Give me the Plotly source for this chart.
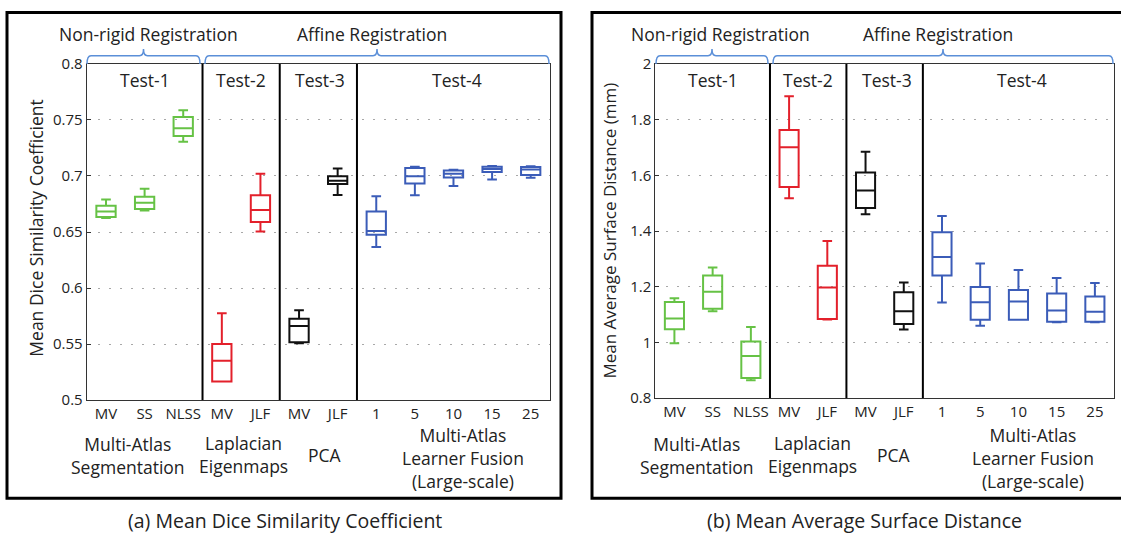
import plotly.graph_objects as go

W, H = 1121, 540

# ---------------- data ----------------
tick_labels = ["MV", "SS", "NLSS", "MV", "JLF", "MV", "JLF", "1", "5", "10", "15", "25"]
positions = list(range(1, 13))
box_colors = ["#66c245"] * 3 + ["#e3202b"] * 2 + ["#111111"] * 2 + ["#3b5cb8"] * 5

# Panel (a) Mean Dice Similarity Coefficient
dsc_lower = [0.6625, 0.6691, 0.7306, 0.5166, 0.6504, 0.5507, 0.6831, 0.6367, 0.6828, 0.6911, 0.6968, 0.6985]
dsc_q1 = [0.6633, 0.6705, 0.7358, 0.5166, 0.6590, 0.5516, 0.6928, 0.6476, 0.6934, 0.6986, 0.7035, 0.7009]
dsc_median = [0.6682, 0.6762, 0.7427, 0.5350, 0.6696, 0.5660, 0.6958, 0.6510, 0.6997, 0.7020, 0.7063, 0.7057]
dsc_q3 = [0.6734, 0.6814, 0.7527, 0.5501, 0.6828, 0.5725, 0.6997, 0.6682, 0.7072, 0.7049, 0.7083, 0.7080]
dsc_upper = [0.6791, 0.6885, 0.7587, 0.5774, 0.7020, 0.5802, 0.7066, 0.6820, 0.7083, 0.7055, 0.7090, 0.7086]

# Panel (b) Mean Average Surface Distance
masd_lower = [0.997, 1.112, 0.864, 1.518, 1.082, 1.460, 1.046, 1.143, 1.060, 1.081, 1.072, 1.072]
masd_q1 = [1.047, 1.121, 0.872, 1.558, 1.084, 1.483, 1.066, 1.240, 1.081, 1.081, 1.074, 1.074]
masd_median = [1.086, 1.182, 0.951, 1.701, 1.197, 1.546, 1.112, 1.307, 1.144, 1.147, 1.115, 1.110]
masd_q3 = [1.145, 1.240, 1.003, 1.763, 1.275, 1.610, 1.180, 1.396, 1.199, 1.188, 1.176, 1.165]
masd_upper = [1.159, 1.269, 1.055, 1.884, 1.364, 1.685, 1.215, 1.454, 1.283, 1.260, 1.231, 1.213]

dsc_ticks = [0.5, 0.55, 0.6, 0.65, 0.7, 0.75, 0.8]
dsc_ticktext = ["0.5", "0.55", "0.6", "0.65", "0.7", "0.75", "0.8"]
masd_ticks = [0.8, 1.0, 1.2, 1.4, 1.6, 1.8, 2.0]
masd_ticktext = ["0.8", "1", "1.2", "1.4", "1.6", "1.8", "2"]

separators = [3.5, 5.5, 7.5]
test_labels = ["Test-1", "Test-2", "Test-3", "Test-4"]
test_label_pos = [2.0, 4.5, 6.55, 10.1]
group_labels = ["Multi-Atlas<br>Segmentation", "Laplacian<br>Eigenmaps", "PCA",
                "Multi-Atlas<br>Learner Fusion<br>(Large-scale)"]

FONT = "Open Sans"
TXT = "#222222"
LBL = 17.5


def px(x):
    return x / W


def py(y):
    return 1 - y / H


fig = go.Figure()

panels = [
    dict(xa="x", ya="y", lo=dsc_lower, q1=dsc_q1, me=dsc_median, q3=dsc_q3, up=dsc_upper),
    dict(xa="x2", ya="y2", lo=masd_lower, q1=masd_q1, me=masd_median, q3=masd_q3, up=masd_upper),
]
for p in panels:
    for i, pos in enumerate(positions):
        fig.add_trace(go.Box(
            x=[pos], q1=[p["q1"][i]], median=[p["me"][i]], q3=[p["q3"][i]],
            lowerfence=[p["lo"][i]], upperfence=[p["up"][i]],
            width=0.5, whiskerwidth=0.5, boxpoints=False,
            line=dict(color=box_colors[i], width=2),
            fillcolor="rgba(0,0,0,0)", showlegend=False, hoverinfo="skip",
            xaxis=p["xa"], yaxis=p["ya"],
        ))

axis_common = dict(showline=True, mirror=True, linecolor="#333333", linewidth=1,
                   zeroline=False, tickfont=dict(family=FONT, size=15, color=TXT))
grid_common = dict(showgrid=True, gridcolor="#a8a8a8", griddash="2px,9px", gridwidth=1,
                   ticks="inside", ticklen=4, tickcolor="#333333")

fig.update_layout(
    width=W, height=H, margin=dict(l=0, r=0, t=0, b=0),
    paper_bgcolor="white", plot_bgcolor="white", boxmode="overlay",
    xaxis=dict(domain=[px(86.7), px(550)], range=[0.5, 12.5], tickvals=positions,
               ticktext=tick_labels, showgrid=False, ticks="", anchor="y", **axis_common),
    yaxis=dict(domain=[py(404), py(55)], range=[0.5, 0.8], tickvals=dsc_ticks,
               ticktext=dsc_ticktext, anchor="x", **grid_common, **axis_common),
    xaxis2=dict(domain=[px(655.3), px(1114)], range=[0.5, 12.5], tickvals=positions,
                ticktext=tick_labels, showgrid=False, ticks="", anchor="y2", **axis_common),
    yaxis2=dict(domain=[py(402), py(55)], range=[0.8, 2.0], tickvals=masd_ticks,
                ticktext=masd_ticktext, anchor="x2", **grid_common, **axis_common),
)

shapes = []
annotations = []


def ann(text, x, y, size=LBL, xref="paper", yref="paper", angle=0):
    return dict(text=text, x=x, y=y, xref=xref, yref=yref, showarrow=False,
                xanchor="center", yanchor="middle", align="center", textangle=angle,
                font=dict(family=FONT, size=size, color=TXT))


# separators and labels inside each panel
for xa, ya in [("x", "y"), ("x2", "y2")]:
    for s in separators:
        shapes.append(dict(type="line", xref=xa, yref=f"{ya} domain", x0=s, x1=s, y0=0, y1=1,
                           line=dict(color="black", width=2)))
    for lab, lp in zip(test_labels, test_label_pos):
        annotations.append(ann(lab, lp, py(72), xref=xa))

# group labels below axes
group_a = [(128, 462), (243, 461), (325, 461), (463, 464.5)]
group_b = [(697, 462), (812, 461), (894, 461), (1033, 464.5)]
for coords in (group_a, group_b):
    for lab, (gx, gy) in zip(group_labels, coords):
        annotations.append(ann(lab, px(gx), py(gy)))

# frames
shapes.append(dict(type="rect", xref="paper", yref="paper", x0=px(7), x1=px(561),
                   y0=py(506), y1=py(1.5), line=dict(color="black", width=3)))
shapes.append(dict(type="rect", xref="paper", yref="paper", x0=px(592), x1=px(1130),
                   y0=py(506), y1=py(1.5), line=dict(color="black", width=3)))


def brace(x0, x1, yl=46.5, ye=55, yt=39.5, r=4):
    xm = (x0 + x1) / 2
    pts = (f"M {px(x0)},{py(ye)} Q {px(x0)},{py(yl)} {px(x0 + r)},{py(yl)} "
           f"L {px(xm - r)},{py(yl)} Q {px(xm)},{py(yl)} {px(xm)},{py(yt)} "
           f"Q {px(xm)},{py(yl)} {px(xm + r)},{py(yl)} "
           f"L {px(x1 - r)},{py(yl)} Q {px(x1)},{py(yl)} {px(x1)},{py(ye)}")
    return dict(type="path", xref="paper", yref="paper", path=pts,
                line=dict(color="#5b8fd8", width=1.5))


shapes += [brace(87, 200), brace(205, 549), brace(656, 768), brace(773, 1113)]

for (x, t) in [(148, "Non-rigid Registration"), (372, "Affine Registration"),
               (720, "Non-rigid Registration"), (938, "Affine Registration")]:
    annotations.append(ann(t, px(x), py(24)))

# y-axis titles
annotations.append(ann("Mean Dice Similarity Coefficient", px(36), py(225), angle=-90))
annotations.append(ann("Mean Average Surface Distance (mm)", px(610), py(228), size=17, angle=-90))

# captions
annotations.append(ann("(a) Mean Dice Similarity Coefficient", px(285), py(529), size=19.5))
annotations.append(ann("(b) Mean Average Surface Distance", px(864), py(529), size=19.5))

fig.update_layout(shapes=shapes, annotations=annotations)
fig.write_html("out.html")
